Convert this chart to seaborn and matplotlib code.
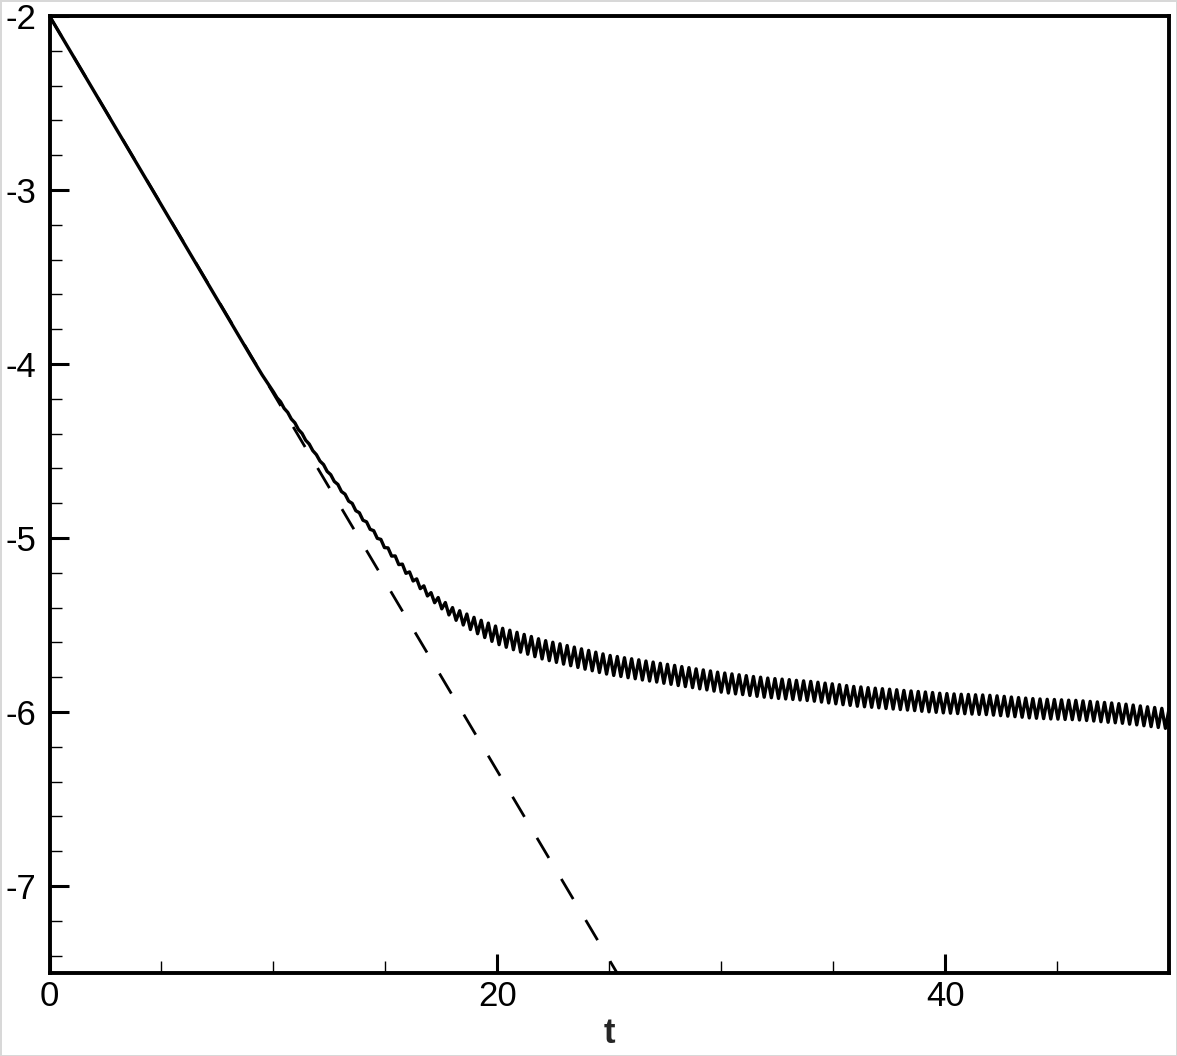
import matplotlib
matplotlib.use("Agg")
import matplotlib.pyplot as plt
from matplotlib.ticker import MultipleLocator
import pandas as pd
import seaborn as sns

# solid curve: straight start, then the wiggly tail
t_sim = [0.0, 5.0, 9.0, 9.5,
         10.0, 10.16, 10.32, 10.48, 10.64, 10.8, 10.96,
         11.12, 11.28, 11.44, 11.6, 11.76, 11.92,
         12.08, 12.24, 12.4, 12.56, 12.72, 12.88,
         13.04, 13.2, 13.36, 13.52, 13.68, 13.84, 14.0,
         14.16, 14.32, 14.48, 14.64, 14.8, 14.96,
         15.12, 15.28, 15.44, 15.6, 15.76, 15.92,
         16.08, 16.24, 16.4, 16.56, 16.72, 16.88,
         17.04, 17.2, 17.36, 17.52, 17.68, 17.84, 18.0,
         18.16, 18.32, 18.48, 18.64, 18.8, 18.96,
         19.12, 19.28, 19.44, 19.6, 19.76, 19.92,
         20.08, 20.24, 20.4, 20.56, 20.72, 20.88,
         21.04, 21.2, 21.36, 21.52, 21.68, 21.84, 22.0,
         22.16, 22.32, 22.48, 22.64, 22.8, 22.96,
         23.12, 23.28, 23.44, 23.6, 23.76, 23.92,
         24.08, 24.24, 24.4, 24.56, 24.72, 24.88,
         25.04, 25.2, 25.36, 25.52, 25.68, 25.84, 26.0,
         26.16, 26.32, 26.48, 26.64, 26.8, 26.96,
         27.12, 27.28, 27.44, 27.6, 27.76, 27.92,
         28.08, 28.24, 28.4, 28.56, 28.72, 28.88,
         29.04, 29.2, 29.36, 29.52, 29.68, 29.84, 30.0,
         30.16, 30.32, 30.48, 30.64, 30.8, 30.96,
         31.12, 31.28, 31.44, 31.6, 31.76, 31.92,
         32.08, 32.24, 32.4, 32.56, 32.72, 32.88,
         33.04, 33.2, 33.36, 33.52, 33.68, 33.84, 34.0,
         34.16, 34.32, 34.48, 34.64, 34.8, 34.96,
         35.12, 35.28, 35.44, 35.6, 35.76, 35.92,
         36.08, 36.24, 36.4, 36.56, 36.72, 36.88,
         37.04, 37.2, 37.36, 37.52, 37.68, 37.84, 38.0,
         38.16, 38.32, 38.48, 38.64, 38.8, 38.96,
         39.12, 39.28, 39.44, 39.6, 39.76, 39.92,
         40.08, 40.24, 40.4, 40.56, 40.72, 40.88,
         41.04, 41.2, 41.36, 41.52, 41.68, 41.84, 42.0,
         42.16, 42.32, 42.48, 42.64, 42.8, 42.96,
         43.12, 43.28, 43.44, 43.6, 43.76, 43.92,
         44.08, 44.24, 44.4, 44.56, 44.72, 44.88,
         45.04, 45.2, 45.36, 45.52, 45.68, 45.84, 46.0,
         46.16, 46.32, 46.48, 46.64, 46.8, 46.96,
         47.12, 47.28, 47.44, 47.6, 47.76, 47.92,
         48.08, 48.24, 48.4, 48.56, 48.72, 48.88,
         49.04, 49.2, 49.36, 49.52, 49.68, 49.84, 50.0]
y_sim = [-2.0, -3.087, -3.957, -4.063,
         -4.160, -4.194, -4.217, -4.255, -4.278, -4.316, -4.338,
         -4.377, -4.399, -4.438, -4.460, -4.498, -4.521,
         -4.558, -4.578, -4.617, -4.636, -4.675, -4.692,
         -4.733, -4.748, -4.788, -4.801, -4.843, -4.855, -4.898,
         -4.907, -4.950, -4.958, -5.002, -5.008, -5.055,
         -5.057, -5.104, -5.103, -5.153, -5.150, -5.203,
         -5.195, -5.247, -5.235, -5.291, -5.275, -5.333,
         -5.314, -5.372, -5.342, -5.407, -5.371, -5.442, -5.400,
         -5.473, -5.418, -5.500, -5.437, -5.526, -5.456,
         -5.550, -5.473, -5.572, -5.489, -5.594, -5.506,
         -5.613, -5.519, -5.628, -5.530, -5.642, -5.542,
         -5.656, -5.554, -5.668, -5.566, -5.682, -5.579, -5.695,
         -5.590, -5.705, -5.599, -5.715, -5.608, -5.725,
         -5.618, -5.734, -5.627, -5.744, -5.637, -5.754,
         -5.646, -5.763, -5.656, -5.773, -5.666, -5.782,
         -5.675, -5.790, -5.681, -5.796, -5.688, -5.803, -5.694,
         -5.809, -5.700, -5.816, -5.707, -5.822, -5.713,
         -5.828, -5.720, -5.835, -5.726, -5.841, -5.732,
         -5.848, -5.739, -5.854, -5.745, -5.860, -5.752,
         -5.867, -5.758, -5.873, -5.764, -5.880, -5.771, -5.886,
         -5.776, -5.891, -5.781, -5.896, -5.786, -5.900,
         -5.791, -5.905, -5.796, -5.910, -5.800, -5.915,
         -5.805, -5.918, -5.808, -5.922, -5.811, -5.925,
         -5.814, -5.928, -5.818, -5.931, -5.821, -5.934, -5.824,
         -5.938, -5.829, -5.943, -5.834, -5.948, -5.838,
         -5.953, -5.843, -5.958, -5.848, -5.962, -5.853,
         -5.967, -5.856, -5.970, -5.860, -5.973, -5.863,
         -5.976, -5.866, -5.980, -5.869, -5.983, -5.872, -5.986,
         -5.876, -5.989, -5.879, -5.992, -5.882, -5.996,
         -5.885, -5.999, -5.888, -6.002, -5.892, -6.005,
         -5.894, -6.007, -5.896, -6.009, -5.898, -6.010,
         -5.899, -6.012, -5.901, -6.014, -5.902, -6.015, -5.904,
         -6.018, -5.907, -6.021, -5.910, -6.024, -5.914,
         -6.027, -5.917, -6.030, -5.920, -6.034, -5.923,
         -6.036, -5.925, -6.038, -5.927, -6.040, -5.928,
         -6.041, -5.930, -6.043, -5.932, -6.044, -5.933, -6.046,
         -5.936, -6.049, -5.939, -6.052, -5.942, -6.056,
         -5.945, -6.059, -5.948, -6.062, -5.952, -6.065,
         -5.955, -6.070, -5.960, -6.074, -5.965, -6.079,
         -5.970, -6.084, -5.974, -6.089, -5.979, -6.094, -5.984]

# dashed straight line (linear slope)
t_lin = [0.0, 25.35]
y_lin = [-2.0, -7.5]

sim = pd.DataFrame({"t": t_sim, "y": y_sim})
lin = pd.DataFrame({"t": t_lin, "y": y_lin})

sns.set_style("ticks")
plt.rcParams["font.family"] = ["Liberation Sans", "DejaVu Sans"]
plt.rcParams["axes.unicode_minus"] = False

W, H = 1177, 1056
fig = plt.figure(figsize=(W / 100, H / 100), dpi=100)
fig.patch.set_edgecolor("#d8d8d8")
fig.patch.set_linewidth(2)
ax = fig.add_axes([49.5 / W, 1 - 973 / H, (1169 - 49.5) / W, (973 - 16) / H])

sns.lineplot(data=sim, x="t", y="y", ax=ax, color="black", lw=2.4,
             sort=False, estimator=None)
sns.lineplot(data=lin, x="t", y="y", ax=ax, color="black", lw=2.0,
             sort=False, estimator=None)
ax.lines[-1].set_dashes([8.4, 8.8])
ax.lines[-1].set_dash_capstyle("butt")

ax.set_xlim(0, 50)
ax.set_ylim(-7.5, -2)
ax.xaxis.set_major_locator(MultipleLocator(20))
ax.xaxis.set_minor_locator(MultipleLocator(5))
ax.yaxis.set_major_locator(MultipleLocator(1))
ax.yaxis.set_minor_locator(MultipleLocator(0.2))

ax.tick_params(which="both", direction="in", top=False, right=False,
               colors="black", labelsize=25)
ax.tick_params(which="major", length=14, width=2.2)
ax.tick_params(which="minor", length=8.5, width=1.0)
ax.tick_params(axis="x", which="major", pad=5)
ax.tick_params(axis="y", which="major", pad=9.5)

for s in ax.spines.values():
    s.set_linewidth(2.8)
    s.set_color("black")

ax.set_ylabel("")
ax.set_xlabel("t", fontsize=25, fontweight="bold", labelpad=3)

fig.savefig("out.png", dpi=100)
